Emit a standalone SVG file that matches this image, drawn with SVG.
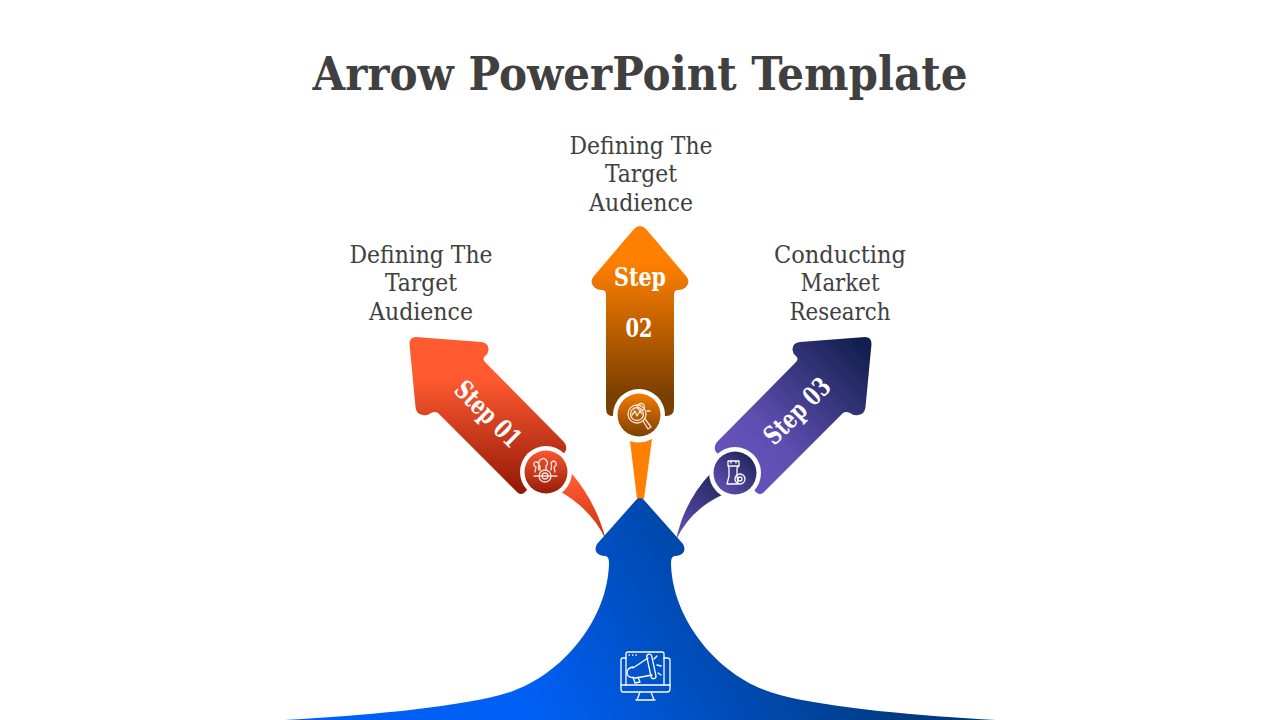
<svg xmlns="http://www.w3.org/2000/svg" width="1280" height="720" viewBox="0 0 1280 720">
<style>
.t{font-family:"DejaVu Serif Condensed","DejaVu Serif","Liberation Serif",serif;text-anchor:middle}
.title{font-size:47px;font-weight:700;fill:#404040}
.lab{font-size:24px;fill:#404040}
.st{font-size:26px;font-weight:700;fill:#fff}
.ic{fill:none;stroke:#fff;stroke-width:1.3;stroke-linecap:round;stroke-linejoin:round}
.ring{fill:#fff}
</style>
<defs>
<linearGradient id="gr" gradientUnits="userSpaceOnUse" x1="0" y1="378" x2="0" y2="490"><stop offset="0" stop-color="#FF5A30"/><stop offset="1" stop-color="#951A08"/></linearGradient>
<linearGradient id="grc" gradientUnits="userSpaceOnUse" x1="0" y1="452" x2="0" y2="495"><stop offset="0" stop-color="#F4552E"/><stop offset="1" stop-color="#941A08"/></linearGradient>
<linearGradient id="grt" gradientUnits="userSpaceOnUse" x1="0" y1="480" x2="0" y2="540"><stop offset="0" stop-color="#FF5A30"/><stop offset="1" stop-color="#C83010"/></linearGradient>
<linearGradient id="go" gradientUnits="userSpaceOnUse" x1="0" y1="262" x2="0" y2="395"><stop offset="0" stop-color="#FF8000"/><stop offset="1" stop-color="#7B3F00"/></linearGradient>
<linearGradient id="goc" gradientUnits="userSpaceOnUse" x1="0" y1="394" x2="0" y2="437"><stop offset="0" stop-color="#F27A00"/><stop offset="1" stop-color="#7B3F00"/></linearGradient>
<linearGradient id="gp" gradientUnits="userSpaceOnUse" x1="745" y1="465" x2="860" y2="345"><stop offset="0" stop-color="#6452BA"/><stop offset=".25" stop-color="#5E4EB0"/><stop offset="1" stop-color="#13204F"/></linearGradient>
<linearGradient id="gpc" gradientUnits="userSpaceOnUse" x1="720" y1="490" x2="752" y2="455"><stop offset="0" stop-color="#5E4EB0"/><stop offset="1" stop-color="#1E2558"/></linearGradient>
<linearGradient id="gpt" gradientUnits="userSpaceOnUse" x1="678" y1="535" x2="725" y2="475"><stop offset="0" stop-color="#6050B4"/><stop offset="1" stop-color="#1E2558"/></linearGradient>
<linearGradient id="gb" gradientUnits="userSpaceOnUse" x1="540" y1="720" x2="820" y2="560"><stop offset="0" stop-color="#0060F5"/><stop offset="1" stop-color="#003A80"/></linearGradient>
</defs>
<rect width="1280" height="720" fill="#fff"/>
<text class="t title" x="640" y="90" textLength="655" lengthAdjust="spacingAndGlyphs">Arrow PowerPoint Template</text>

<g id="connectors">
<path d="M561 492Q592 510 606 540Q596 502 572 474Z" fill="url(#grt)"/>
<path d="M630 441Q641 445 652 439L644 499H637Z" fill="#FF8000"/>
<path d="M722 495Q690 510 676 540Q684 502 710 474Z" fill="url(#gpt)"/>
</g>

<g id="base-arrow">
<path d="M636 500Q640 496 644 500L683 544Q686 549 683 553Q680 556 675 556Q671 556 671 563C672 620 720 680 780 695C830 708 920 716 996 720H284C360 716 450 708 500 695C560 680 608 620 609 563Q609 556 605 556Q600 556 597 553Q594 549 597 544Z" fill="url(#gb)"/>
<g class="ic" stroke-width="1.400">
<path d="M626 658H623Q621 658 621 660V689Q621 692 623 692H667Q670 692 670 689V660Q670 658 667 658H664"/>
<path d="M626 685V654Q626 652 628 652H662Q664 652 664 654V685"/>
<path d="M621 685H670M640 692L637 700M651 692L654 700M636 700H655"/>
<path d="M633 668L648 658M636 678L652 675"/>
<path d="M633 667Q627 668 627 673Q627 678 636 678"/>
<path d="M633 677L635 683L640 682L638 677"/>
<rect x="649" y="654" width="5" height="25" rx="2.500" transform="rotate(-12 651 667)"/>
<path d="M654 659L657 656M657 665L661 666M658 673L661 675M629 655H629.500M632.500 655H633M636 655H636.500"/>
</g>
</g>

<g id="step-01">
<path d="M416 337L481 342Q489 343 488.500 350Q488 354 485 356Q482 359 485 362L564 442Q568 447 565 452L524 493Q521 495 518 493L438 413Q435 411 431 413Q427 416 423 415Q416 414 415.500 407L409.500 344Q409.500 337 416 337Z" fill="url(#gr)"/>
<circle class="ring" cx="546" cy="472" r="26"/>
<circle cx="546" cy="472" r="21.500" fill="url(#grc)"/>
<g class="ic" stroke-width=".9" opacity=".85">
<circle cx="545" cy="476" r="6"/><circle cx="545" cy="476" r="3"/><path d="M534 476H557"/>
<path d="M540 470V466Q537 464 540 460Q544 457 546 460Q549 464 546 466V470M551 470Q552 464 551 463Q554 459 556 463Q557 466 554 467L555 472M539 470Q538 466 539 464Q536 460 534 463Q533 466 536 467L535 472"/>
</g>
<text class="t st" transform="translate(488 414) rotate(45)" x="0" y="9" textLength="82" lengthAdjust="spacingAndGlyphs">Step 01</text>
</g>

<g id="step-02">
<path d="M634 229Q640 223 646 229L686 276Q691 282 686 287Q683 290 678 290Q674 290 674 295V408Q674 416 666 416H612Q606 416 606 408V295Q606 290 602 290Q597 290 594 287Q589 282 594 276Z" fill="url(#go)"/>
<circle class="ring" cx="639" cy="415" r="26"/>
<circle cx="639" cy="415" r="21.500" fill="url(#goc)"/>
<g class="ic" stroke-width=".9" opacity=".85">
<circle cx="637" cy="414" r="9"/><circle cx="637" cy="414" r="6.500"/><path d="M632 415L635 411L637 416L640 411L642 414"/>
<path d="M643 421L648 429L651 427L645 419"/>
<circle cx="641" cy="407" r="3.500"/><path d="M647 411H650"/>
</g>
<text class="t st" x="640" y="286" textLength="52" lengthAdjust="spacingAndGlyphs">Step</text>
<text class="t st" x="639" y="337" textLength="27" lengthAdjust="spacingAndGlyphs">02</text>
</g>

<g id="step-03">
<path d="M865 337L800 342Q792 343 792.500 350Q793 354 796 356Q799 359 796 362L717 442Q713 447 716 452L757 493Q760 495 763 493L843 413Q846 411 850 413Q854 416 858 415Q865 414 865.500 407L871.500 344Q871.500 337 865 337Z" fill="url(#gp)"/>
<circle class="ring" cx="735" cy="473" r="26"/>
<circle cx="735" cy="473" r="21.500" fill="url(#gpc)"/>
<g class="ic" stroke-width="1">
<path d="M728 461H739V466L737 468V476L738 484H727L729 476V468L728 466ZM731 461V463M736 461V463M728 466H739"/>
<circle cx="740" cy="479" r="5"/><circle cx="740" cy="479" r="2"/>
</g>
<text class="t st" transform="translate(797 411) rotate(-45)" x="0" y="9" textLength="82" lengthAdjust="spacingAndGlyphs">Step 03</text>
</g>

<g id="labels">
<text class="t lab" x="641" y="154" textLength="143" lengthAdjust="spacingAndGlyphs">Defining The</text>
<text class="t lab" x="641" y="182" textLength="72" lengthAdjust="spacingAndGlyphs">Target</text>
<text class="t lab" x="641" y="211" textLength="104" lengthAdjust="spacingAndGlyphs">Audience</text>
<text class="t lab" x="421" y="263" textLength="143" lengthAdjust="spacingAndGlyphs">Defining The</text>
<text class="t lab" x="421" y="291" textLength="72" lengthAdjust="spacingAndGlyphs">Target</text>
<text class="t lab" x="421" y="320" textLength="104" lengthAdjust="spacingAndGlyphs">Audience</text>
<text class="t lab" x="840" y="263" textLength="132" lengthAdjust="spacingAndGlyphs">Conducting</text>
<text class="t lab" x="840" y="291" textLength="79" lengthAdjust="spacingAndGlyphs">Market</text>
<text class="t lab" x="840" y="320" textLength="101" lengthAdjust="spacingAndGlyphs">Research</text>
</g>
</svg>
